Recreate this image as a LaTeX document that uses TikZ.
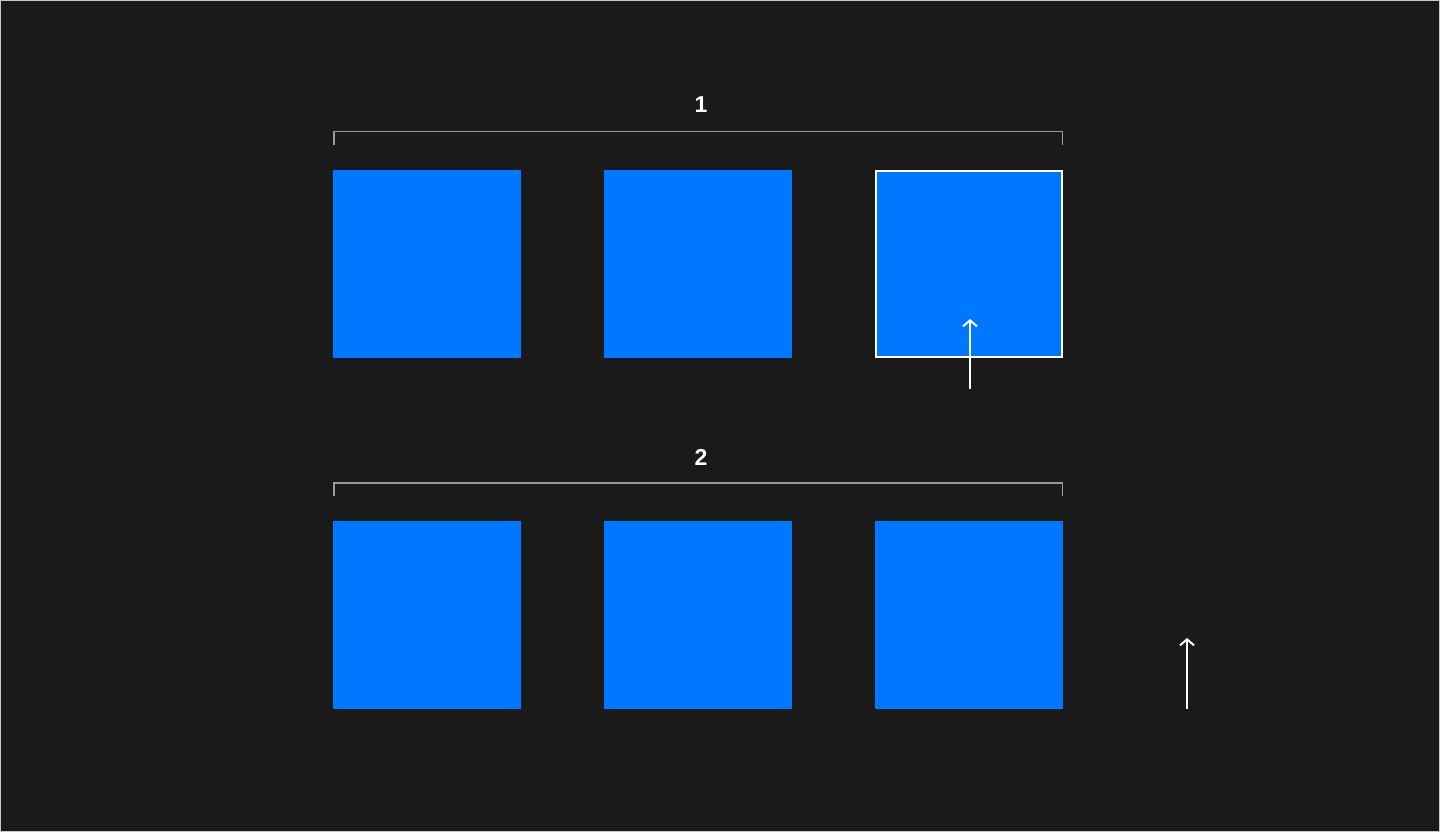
\documentclass[tikz,border=0pt]{standalone}
\usepackage{fontspec}
\setmainfont{Liberation Sans}
\usetikzlibrary{arrows.meta}
\definecolor{bg}{HTML}{1A1A1A}
\definecolor{boxblue}{HTML}{0077FF}
\definecolor{brk}{HTML}{9A9A9A}
\definecolor{frame}{HTML}{C8C8C8}
\tikzset{
  sq/.style={fill=boxblue, draw=none, minimum width=188pt, minimum height=188pt, inner sep=0pt, outer sep=0pt},
  sqsel/.style={sq, draw=white, line width=2pt, minimum width=186pt, minimum height=186pt},
  bracketline/.style={draw=brk, line width=1.5pt},
  lbl/.style={text=white, font=\bfseries\fontsize{23}{23}\selectfont, inner sep=0pt},
  uparrow/.style={draw=white, line width=2pt, -{Straight Barb[length=6pt, width=14pt, line width=2pt]}},
}
\begin{document}
\begin{tikzpicture}[x=1pt, y=-1pt]
  \useasboundingbox (0,0) rectangle (1440,832);
  \fill[bg] (0,0) rectangle (1440,832);
  \draw[frame, line width=1pt] (0.5,0.5) rectangle (1439.5,831.5);

  % row 1
  \node[sq] (a1) at (427,264) {};
  \node[sq] (a2) at (698,264) {};
  \node[sqsel] (a3) at (969,264) {};
  % row 2
  \node[sq] (b1) at (427,615) {};
  \node[sq] (b2) at (698,615) {};
  \node[sq] (b3) at (969,615) {};

  % bracket 1
  \coordinate (k1l) at (333.75,145);
  \coordinate (k1r) at (1062.25,145);
  \draw[bracketline] (k1l) |- (698,131.75) -| (k1r);
  \node[lbl] (l1) at (701,105) {1};

  % bracket 2
  \coordinate (k2l) at (333.75,496);
  \coordinate (k2r) at (1062.25,496);
  \draw[bracketline] (k2l) |- (698,482.75) -| (k2r);
  \node[lbl] (l2) at (701,457) {2};

  % arrows
  \coordinate (ar1s) at (970,389);
  \coordinate (ar1e) at (970,319);
  \draw[uparrow] (ar1s) -- (ar1e);
  \coordinate (ar2s) at (1187,709);
  \coordinate (ar2e) at (1187,638);
  \draw[uparrow] (ar2s) -- (ar2e);
\end{tikzpicture}
\end{document}
